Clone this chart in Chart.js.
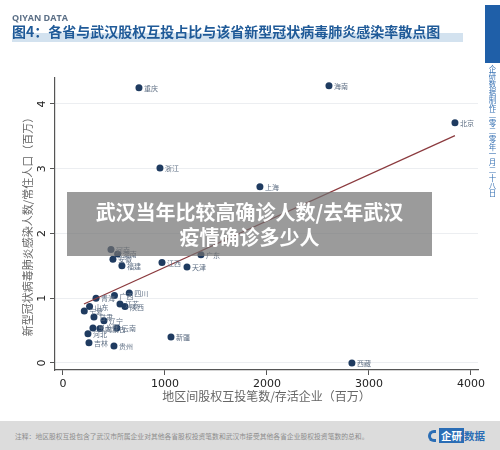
<!DOCTYPE html>
<html>
<head>
<meta charset="utf-8">
<script src="https://cdn.jsdelivr.net/npm/chart.js@4"></script>
<style>
  body { margin: 0; background: #fff; font-family: "Noto Sans CJK SC", "Noto Sans", sans-serif; }
  #wrap { position: relative; width: 500px; height: 450px; overflow: hidden; }
  #chart { position: absolute; left: 0; top: 0; }
  .abs { position: absolute; }
  #brand { left: 12px; top: 11px; font: bold 9px "Open Sans", sans-serif; color: #5b6f86; }
  #bar { left: 12px; top: 33px; width: 451px; height: 9px; background: #d3e2ef; }
  #title { left: 12px; top: 21px; font-weight: bold; font-size: 14px; color: #1f5a98; white-space: nowrap; }
  #side { left: 485px; top: 5px; width: 15px; height: 58px; background: #1f5fa8; }
  #stamp { left: 487px; top: 65px; writing-mode: vertical-rl; font-size: 7.5px; line-height: 10px; color: #3b74b5; letter-spacing: 0.3px; }
  #overlay { left: 67px; top: 192px; width: 365px; height: 64px; background: rgba(112,112,112,0.7);
             color: #fff; font-weight: bold; font-size: 20px; line-height: 25px; text-align: center; padding-top: 7px; box-sizing: border-box; }
  #foot { left: 0; top: 421px; width: 500px; height: 29px; background: #dcdcdc; }
  #note { left: 15px; top: 431px; font-size: 6.8px; color: #8c8c8c; white-space: nowrap; }
  #logo { left: 428px; top: 428px; font-weight: bold; font-size: 10.5px; color: #2a6db5; white-space: nowrap; }
  #logo .c { display: inline-block; width: 8px; height: 12px; border: 3px solid #2a6db5; border-right: none; border-radius: 8px 0 0 8px; box-sizing: border-box; vertical-align: -2px; margin-right: 3px; }
  #logo .b { background: #2a6db5; color: #fff; padding: 0 2px; }
</style>
</head>
<body>
<div id="wrap">
  <canvas id="chart" width="500" height="450"></canvas>
  <div class="abs" id="brand">QIYAN DATA</div>
  <div class="abs" id="bar"></div>
  <div class="abs" id="title">图4：各省与武汉股权互投占比与该省新型冠状病毒肺炎感染率散点图</div>
  <div class="abs" id="side"></div>
  <div class="abs" id="stamp">企研数据制作二零二零年一月二十八日</div>
  <div class="abs" id="overlay">武汉当年比较高确诊人数/去年武汉<br>疫情确诊多少人</div>
  <div class="abs" id="foot"></div>
  <div class="abs" id="note">注释：地区股权互投包含了武汉市所属企业对其他各省股权投资笔数和武汉市接受其他各省企业股权投资笔数的总和。</div>
  <div class="abs" id="logo"><span class="c"></span><span class="b">企研</span>数据</div>
</div>
<script>
// 省份及坐标
const provinces = ["重庆", "海南", "北京", "浙江", "上海", "河南", "湖南", "安徽", "福建", "江西", "广东", "天津",
  "四川", "广西", "青海", "江苏", "陕西", "宁夏", "山东", "甘肃", "辽宁", "黑龙江", "内蒙古", "云南",
  "河北", "吉林", "贵州", "新疆", "西藏"];
const investRatio = [745, 2608, 3843, 951, 1931, 471, 536, 490, 578, 971, 1353, 1216,
  650, 505, 324, 559, 608, 209, 261, 304, 402, 294, 363, 529,
  245, 255, 500, 1059, 2833];
const infectRate = [4.25, 4.28, 3.71, 3.01, 2.72, 1.75, 1.68, 1.60, 1.50, 1.55, 1.67, 1.48,
  1.08, 1.04, 1.00, 0.91, 0.87, 0.80, 0.87, 0.71, 0.65, 0.54, 0.53, 0.54,
  0.45, 0.31, 0.26, 0.40, 0.00];
// 拟合线两端
const trendX = [206, 3843];
const trendY = [0.91, 3.51];
const xTicks = [0, 1000, 2000, 3000, 4000];
const yTicks = [0, 1, 2, 3, 4];

const points = provinces.map((p, i) => ({ x: investRatio[i], y: infectRate[i] }));
const trend = trendX.map((x, i) => ({ x: x, y: trendY[i] }));

const pointLabels = {
  id: "pointLabels",
  afterDatasetsDraw(chart) {
    const ctx = chart.ctx;
    const meta = chart.getDatasetMeta(1);
    ctx.save();
    ctx.font = '7px "Noto Sans CJK SC"';
    ctx.fillStyle = "#5f6f84";
    ctx.textBaseline = "middle";
    meta.data.forEach((pt, i) => {
      ctx.fillText(provinces[i], pt.x + 5, pt.y + 0.5);
    });
    ctx.restore();
  }
};

const yLabels = {
  id: "yLabels",
  afterDraw(chart) {
    const ctx = chart.ctx;
    const sc = chart.scales.y;
    ctx.save();
    ctx.font = '11px "DejaVu Sans"';
    ctx.fillStyle = "#222";
    ctx.textAlign = "center";
    ctx.textBaseline = "middle";
    sc.ticks.forEach(t => {
      if (!yTicks.includes(t.value)) return;
      ctx.save();
      ctx.translate(42, sc.getPixelForValue(t.value));
      ctx.rotate(-Math.PI / 2);
      ctx.fillText(String(t.value), 0, 0);
      ctx.restore();
    });
    ctx.restore();
  }
};

new Chart(document.getElementById("chart"), {
  type: "scatter",
  data: {
    datasets: [
      {
        type: "line",
        data: trend,
        borderColor: "#8b3a3e",
        borderWidth: 1.2,
        pointRadius: 0,
        fill: false
      },
      {
        data: points,
        backgroundColor: "#1f3b60",
        borderWidth: 0,
        pointRadius: 3.5
      }
    ]
  },
  options: {
    responsive: false,
    animation: false,
    devicePixelRatio: 1,
    layout: { padding: { top: 78, right: 22, bottom: 30, left: 0 } },
    plugins: { legend: { display: false }, tooltip: { enabled: false } },
    scales: {
      x: {
        type: "linear",
        min: -78,
        max: 4069,
        afterFit: s => { s.height = 50; },
        afterBuildTicks: s => { s.ticks = xTicks.map(v => ({ value: v })); },
        ticks: {
          font: { family: "DejaVu Sans", size: 11 },
          color: "#222",
          padding: 3,
          callback: v => String(v)
        },
        grid: { drawOnChartArea: false, tickLength: 5, tickColor: "#555" },
        border: { color: "#555", width: 1.2 },
        title: {
          display: true,
          text: "地区间股权互投笔数/存活企业（百万）",
          font: { family: "Noto Sans CJK SC", size: 12 },
          color: "#666",
          padding: { top: 0, bottom: 16 }
        }
      },
      y: {
        type: "linear",
        min: -0.11,
        max: 4.4,
        afterFit: s => { s.width = 55; },
        afterBuildTicks: s => { s.ticks = yTicks.map(v => ({ value: v })); },
        ticks: { display: false },
        grid: { color: "#eceef1", lineWidth: 1, tickLength: 5, tickColor: "#555" },
        border: { color: "#555", width: 1.2 },
        title: {
          display: true,
          text: "新型冠状病毒肺炎感染人数/常住人口（百万）",
          font: { family: "Noto Sans CJK SC", size: 11 },
          color: "#666",
          padding: { top: 21, bottom: 0 }
        }
      }
    }
  },
  plugins: [pointLabels, yLabels]
});
</script>
</body>
</html>
